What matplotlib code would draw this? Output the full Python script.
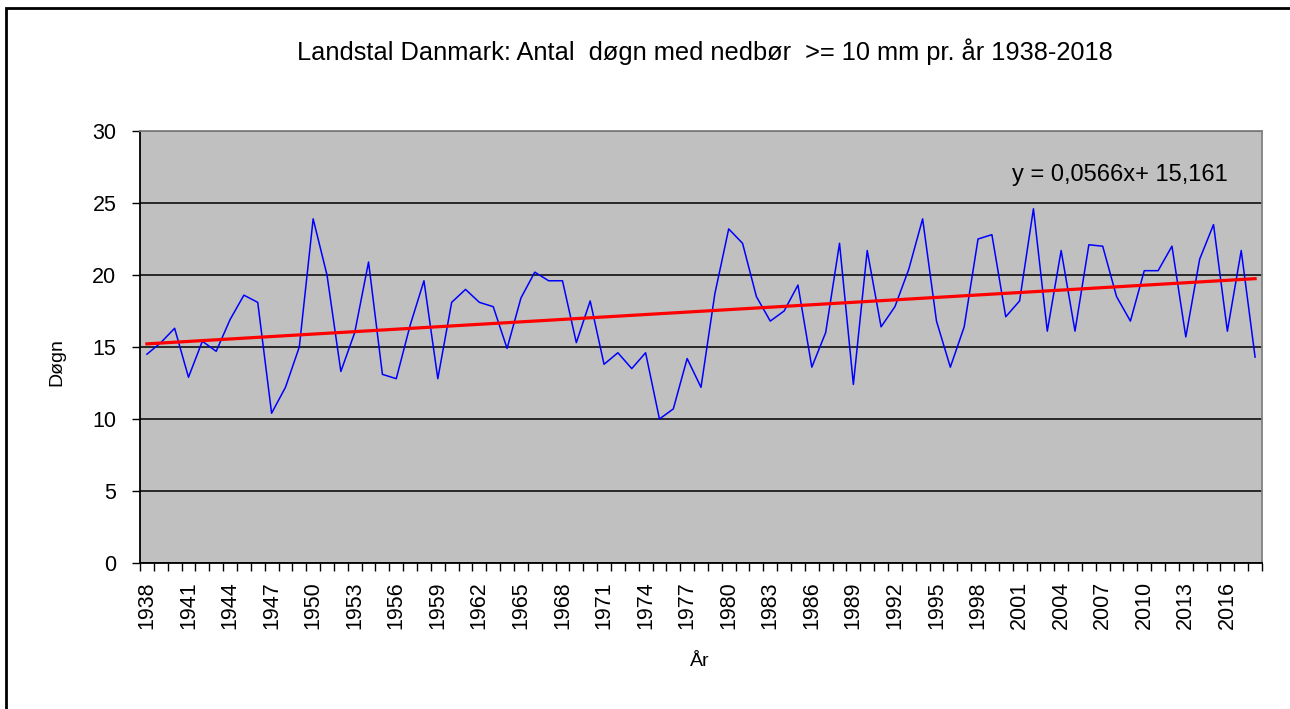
import numpy as np
import matplotlib
matplotlib.use('Agg')
import matplotlib.pyplot as plt
from matplotlib.patches import Rectangle

plt.rcParams['font.family'] = ['Liberation Sans', 'DejaVu Sans']

# Antal døgn med nedbør >= 10 mm, landstal, 1938-2018
years = list(range(1938, 2019))
days = [14.5, 15.3, 16.3, 12.9, 15.4, 14.7, 16.9, 18.6, 18.1, 10.4,
        12.2, 15.0, 23.9, 20.0, 13.3, 16.0, 20.9, 13.1, 12.8, 16.5,
        19.6, 12.8, 18.1, 19.0, 18.1, 17.8, 14.9, 18.4, 20.2, 19.6,
        19.6, 15.3, 18.2, 13.8, 14.6, 13.5, 14.6, 10.0, 10.7, 14.2,
        12.2, 18.7, 23.2, 22.2, 18.5, 16.8, 17.5, 19.3, 13.6, 16.0,
        22.2, 12.4, 21.7, 16.4, 17.8, 20.4, 23.9, 16.8, 13.6, 16.4,
        22.5, 22.8, 17.1, 18.2, 24.6, 16.1, 21.7, 16.1, 22.1, 22.0,
        18.5, 16.8, 20.3, 20.3, 22.0, 15.7, 21.1, 23.5, 16.1, 21.7,
        14.3]

# trendlinje fra Excel: y = 0,0566x + 15,161 (x = 1..81)
slope = 0.0566
intercept = 15.161

x = np.arange(1, len(years) + 1)
trend = slope * x + intercept

fig = plt.figure(figsize=(12.9, 7.09), dpi=100)
ax = fig.add_axes([140 / 1290, 1 - 563 / 709, 1122 / 1290, 432 / 709])
ax.set_facecolor('#C0C0C0')

ax.plot(x, days, color='#0000FF', lw=1.1, zorder=3)
ax.plot(x, trend, color='#FF0000', lw=2.3, zorder=4)

ax.set_xlim(0.5, len(years) + 0.5)
ax.set_ylim(0, 30)
ax.set_yticks(range(0, 31, 5))
ax.yaxis.grid(True, color='black', lw=1.1)
ax.set_axisbelow(True)

# kategoriakse: labels hvert 3. år, tick marks mellem kategorier
ax.set_xticks(x[::3])
ax.set_xticklabels([str(y) for y in years[::3]], rotation=90)
ax.set_xticks(np.arange(0.5, len(years) + 1), minor=True)
ax.tick_params(axis='x', which='major', length=0, pad=13, labelsize=15.5)
ax.tick_params(axis='x', which='minor', length=6, width=1, direction='out')
ax.tick_params(axis='y', length=6, width=1, direction='out', pad=11, labelsize=15.5)

for s in ['left', 'bottom']:
    ax.spines[s].set_color('black')
    ax.spines[s].set_linewidth(1.3)
for s in ['top', 'right']:
    ax.spines[s].set_color('#808080')
    ax.spines[s].set_linewidth(1.3)

ax.text(0.873, 0.898, 'y = 0,0566x+ 15,161', transform=ax.transAxes,
        ha='center', va='center', fontsize=17)

fig.text(705 / 1290, 1 - 52 / 709,
         'Landstal Danmark: Antal  døgn med nedbør  >= 10 mm pr. år 1938-2018',
         ha='center', va='center', fontsize=18.3)
fig.text(57 / 1290, 1 - 362 / 709, 'Døgn', rotation=90, ha='center', va='center', fontsize=14)
fig.text(700 / 1290, 1 - 661 / 709, 'År', ha='center', va='center', fontsize=14)

# ramme om hele diagrammet
fig.patches.append(Rectangle((6 / 1290, -0.1), 1.2, 1.1 - 8 / 709, transform=fig.transFigure,
                             fill=False, edgecolor='black', lw=2, clip_on=False))

fig.savefig('out.png', dpi=100)
